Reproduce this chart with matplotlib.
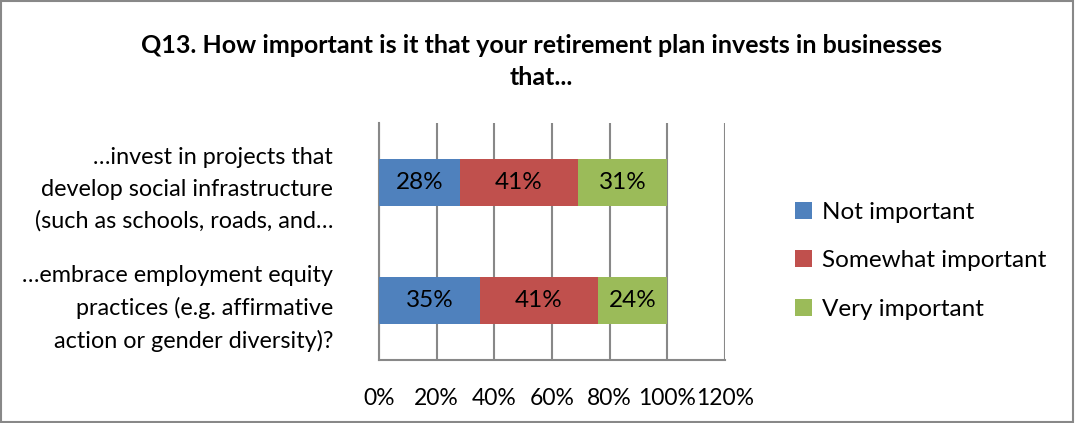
import numpy as np
import matplotlib.pyplot as plt
from matplotlib.patches import Rectangle

plt.rcParams['font.family'] = ['Lato', 'DejaVu Sans']

categories = [
    "…embrace employment equity\npractices (e.g. affirmative\naction or gender diversity)?",
    "…invest in projects that\ndevelop social infrastructure\n(such as schools, roads, and…",
]
series_names = ["Not important", "Somewhat important", "Very important"]
not_important = [35, 28]
somewhat_important = [41, 41]
very_important = [24, 31]
x_ticks = [0, 20, 40, 60, 80, 100, 120]

colors = ["#4F81BD", "#C0504D", "#9BBB59"]

fig = plt.figure(figsize=(10.75, 4.23), dpi=100)
ax = fig.add_axes([0.3526, 0.1489, 0.3219, 0.5603])

y = np.arange(len(categories))
left = np.zeros(len(categories))
for name, vals, col in zip(series_names,
                           [not_important, somewhat_important, very_important],
                           colors):
    bars = ax.barh(y, vals, left=left, height=0.4, color=col, label=name, zorder=3)
    for b, v in zip(bars, vals):
        ax.text(b.get_x() + b.get_width() / 2, b.get_y() + b.get_height() / 2,
                f"{v}%", ha="center", va="center", fontsize=17.5, color="black",
                zorder=4)
    left += np.array(vals)

# axes formatting
ax.set_xlim(0, 120)
ax.set_ylim(-0.5, 1.5)
ax.set_xticks(x_ticks)
ax.set_xticklabels([f"{t}%" for t in x_ticks])
ax.set_yticks(y)
ax.set_yticklabels(categories, linespacing=1.6, ha="right", multialignment="right")
ax.tick_params(axis="x", length=0, pad=20, labelsize=16.5)
ax.tick_params(axis="y", length=0, pad=33, labelsize=16.8)
ax.grid(True, axis="x", color="#888888", linewidth=1.5, zorder=0)
for s in ["top", "right"]:
    ax.spines[s].set_visible(False)
for s in ["left", "bottom"]:
    ax.spines[s].set_color("#888888")
    ax.spines[s].set_linewidth(1.5)

fig.suptitle("Q13. How important is it that your retirement plan invests in businesses\nthat...",
             x=0.504, y=0.92, fontsize=18, fontweight="bold", linespacing=1.5)

handles, labels = ax.get_legend_handles_labels()
fig.legend(handles, labels, loc="center left", bbox_to_anchor=(0.719, 0.383),
           frameon=False, fontsize=17.5, handlelength=0.7, handleheight=0.7,
           handletextpad=0.4, labelspacing=1.12)

# chart border
fig.patches.append(Rectangle((0.001, 0.002), 0.997, 0.995, transform=fig.transFigure,
                             fill=False, edgecolor="#888888", linewidth=1.5))

fig.savefig("out.png", dpi=100)
